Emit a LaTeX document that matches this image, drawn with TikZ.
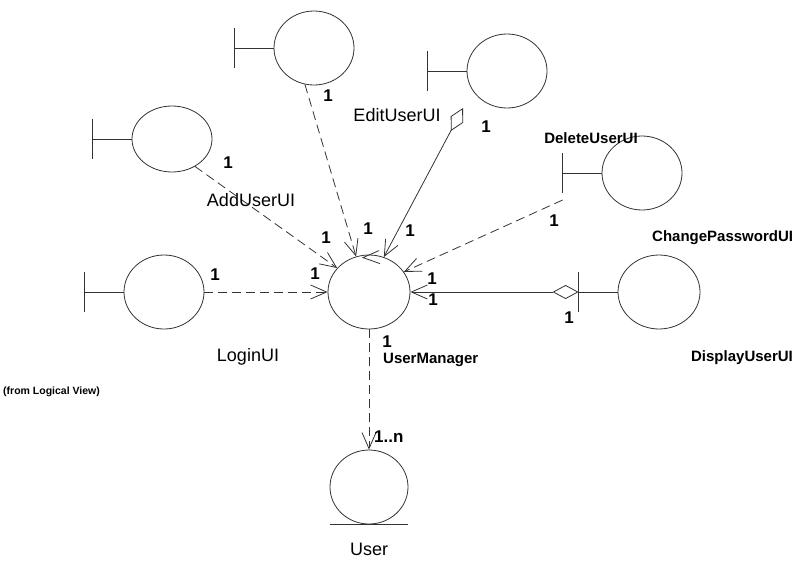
\documentclass[tikz,border=0pt]{standalone}
\usepackage{fontspec}
\setmainfont{Liberation Sans}
\usetikzlibrary{
    shapes.geometric,
    arrows.meta,
    positioning,
    calc
}

\begin{document}
\begin{tikzpicture}[
    x=1pt, y=-1pt,
    obj/.style={
        ellipse,
        draw=black!80,
        line width=0.8pt,
        minimum width=80pt,
        minimum height=74pt,
        inner sep=0pt
    },
    bar/.style={draw=black!80, line width=0.8pt},
    dep/.style={-{Straight Barb[length=16pt,width=14pt]}, draw=black!80, line width=0.8pt, dash pattern=on 9pt off 5pt},
    assoc/.style={{Diamond[open,length=26pt,width=14pt]}-{Straight Barb[length=16pt,width=14pt]}, draw=black!80, line width=0.8pt},
    mult/.style={font=\fontsize{17}{17}\selectfont\bfseries, inner sep=0pt},
    lbl/.style={font=\fontsize{18}{18}\selectfont, inner sep=1pt},
    tag/.style={font=\fontsize{15}{15}\selectfont\bfseries, inner sep=0pt}
]

\useasboundingbox (0,0) rectangle (799,560);

% ===== Objects =====
\node[obj] (topui) at (314,48) {};
\node[obj] (edit) at (507,71) {};
\node[obj, minimum height=66pt] (add) at (172,139) {};
\node[obj] (login) at (164,292) {};
\node[obj] (delete) at (642,173) {};
\node[obj, minimum width=82pt] (display) at (659,292) {};
\node[obj, minimum width=82pt] (um) at (369,292) {};
\node[obj, minimum width=78pt] (user) at (369,487) {};

% Boundary bars
\foreach \n in {topui, edit, add, login, delete, display} {
    \draw[bar] (\n.west) -- ++(-39,0) coordinate (\n bar);
    \draw[bar] ([yshift=20pt]\n bar) -- ([yshift=-20pt]\n bar);
}

% Entity underline
\draw[bar] ([xshift=-39pt]user.south) -- ([xshift=39pt]user.south);

% ===== Connectors =====
\draw[dep] (topui.256) -- (um.110);
\draw[assoc] ([shift={(-44,37)}]edit.center) -- (um.67);
\draw[dep] (add.310) -- (um.143);
\draw[dep] (login) -- (um);
\draw[dep] ([yshift=-27pt]deletebar) -- (um.30);
\draw[assoc] (displaybar) -- (um);
\draw[dep] (um) -- (user);

% stray arrow head on UserManager
\draw[bar] ([shift={(10,-4)}]um.north) -- ([shift={(-6,3)}]um.north) -- ([shift={(11,9)}]um.north);

% ===== Labels =====
\node[lbl] (editlbl) at (397,115) {EditUserUI};
\node[lbl] (addlbl) at (251,200) {AddUserUI};
\node[lbl] (loginlbl) at (248,357) {LoginUI};
\node[lbl] (userlbl) at (369,549) {User};
\node[tag] (deletelbl) at (591,138) {DeleteUserUI};
\node[tag, anchor=west] (changelbl) at (652,238) {ChangePasswordUI};
\node[tag] (displaylbl) at (742,358) {DisplayUserUI};
\node[tag, anchor=west] (umlbl) at (383,360) {UserManager};
\node[font=\fontsize{10.5}{10.5}\selectfont\bfseries, anchor=west, inner sep=0pt] (fromlbl) at (3,392) {(from Logical View)};

% Multiplicities
\foreach \x/\y [count=\i] in {328/96, 368/229, 486/127, 410/231, 228/163, 326/238,
        215/275, 315/274, 554/221, 432/279, 569/318, 433/300, 387/342} {
    \node[mult] (m\i) at (\x,\y) {1};
}
\node[mult, anchor=west] (many) at (374,437) {1..n};

\end{tikzpicture}
\end{document}
